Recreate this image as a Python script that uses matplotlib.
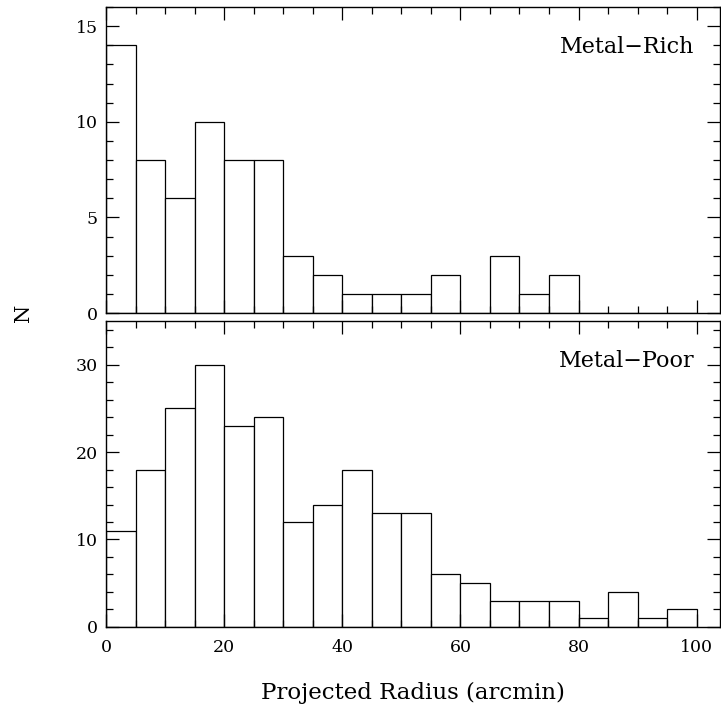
import matplotlib
matplotlib.use("Agg")
import matplotlib.pyplot as plt
import numpy as np
from matplotlib.ticker import MultipleLocator

# bin edges in arcmin, 5' bins
bin_left = np.arange(0, 100, 5)
bin_width = 5

metal_rich = [14, 8, 6, 10, 8, 8, 3, 2, 1, 1, 1, 2, 0, 3, 1, 2, 0, 0, 0, 0]
metal_poor = [11, 18, 25, 30, 23, 24, 12, 14, 18, 13, 13, 6, 5, 3, 3, 3, 1, 4, 1, 2]

plt.rcParams['font.family'] = ['DejaVu Serif']
plt.rcParams['mathtext.fontset'] = 'dejavuserif'

fig = plt.figure(figsize=(7.21, 7.10), dpi=100)
ax1 = fig.add_axes([0.147, 0.559, 0.852, 0.431])
ax2 = fig.add_axes([0.147, 0.117, 0.852, 0.431])


def style(ax, ymaj, ymin, ymax):
    ax.set_xlim(0, 104)
    ax.set_ylim(0, ymax)
    ax.xaxis.set_major_locator(MultipleLocator(20))
    ax.xaxis.set_minor_locator(MultipleLocator(5))
    ax.yaxis.set_major_locator(MultipleLocator(ymaj))
    ax.yaxis.set_minor_locator(MultipleLocator(ymin))
    ax.tick_params(which='both', direction='in', top=True, right=True,
                   width=0.9, labelsize=12.5)
    ax.tick_params(axis='y', pad=6)
    ax.tick_params(axis='x', pad=9)
    ax.tick_params(which='major', length=9.5)
    ax.tick_params(which='minor', length=4.7)
    for s in ax.spines.values():
        s.set_linewidth(1.0)


for ax, vals, name, ymaj, ymin, ymax in [
        (ax1, metal_rich, 'Metal\u2212Rich', 5, 1, 16),
        (ax2, metal_poor, 'Metal\u2212Poor', 10, 2, 35)]:
    ax.bar(bin_left, vals, width=bin_width, align='edge',
           facecolor='white', edgecolor='black', linewidth=0.9)
    style(ax, ymaj, ymin, ymax)
    ax.text(0.958, 0.868, name, transform=ax.transAxes, ha='right',
            va='center', fontsize=16)

ax1.tick_params(labelbottom=False)
ax2.set_xlabel('Projected Radius (arcmin)', fontsize=16.5, labelpad=18)
fig.text(0.032, 0.559, 'N', rotation=90, ha='center', va='center', fontsize=15)

fig.savefig('out.png', dpi=100)
